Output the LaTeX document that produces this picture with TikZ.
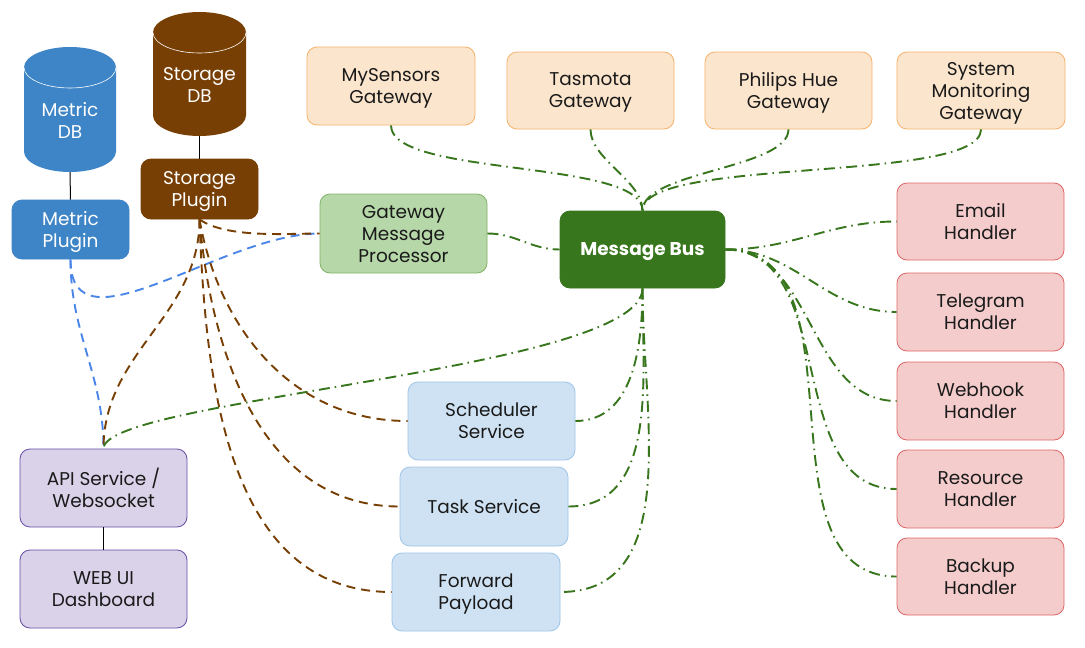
\documentclass[tikz,border=0pt]{standalone}
\usepackage{fontspec}
\setmainfont{Poppins}
\definecolor{mblue}{HTML}{3D85C6}
\definecolor{sbrown}{HTML}{783F04}
\definecolor{gmpfill}{HTML}{B6D7A8}
\definecolor{gmpdraw}{HTML}{82B366}
\definecolor{busgreen}{HTML}{38761D}
\definecolor{gwfill}{HTML}{FCE5CD}
\definecolor{gwdraw}{HTML}{F6B26B}
\definecolor{hfill}{HTML}{F4CCCC}
\definecolor{hdraw}{HTML}{E06666}
\definecolor{sfill}{HTML}{CFE2F3}
\definecolor{sdraw}{HTML}{9FC5E8}
\definecolor{afill}{HTML}{D9D2E9}
\definecolor{adraw}{HTML}{674EA7}
\definecolor{txt}{HTML}{1A1A1A}
\definecolor{bluedash}{HTML}{4A86E8}
\tikzset{
  lbl/.style={inner sep=0pt, align=center, text depth=0pt,
    font=\fontsize{18.5}{22}\selectfont},
  box/.style={lbl, rectangle, rounded corners=10pt, text=txt, line width=0.8pt},
  gw/.style={box, fill=gwfill, draw=gwdraw},
  hd/.style={box, fill=hfill, draw=hdraw},
  sv/.style={box, fill=sfill, draw=sdraw},
  ap/.style={box, fill=afill, draw=adraw},
  greenlink/.style={draw=busgreen, line width=1.9pt, dash pattern=on 11pt off 5pt on 1.5pt off 5pt},
  brownlink/.style={draw=sbrown, line width=1.9pt, dash pattern=on 9pt off 6pt},
  bluelink/.style={draw=bluedash, line width=1.9pt, dash pattern=on 9pt off 6pt},
  plain/.style={draw=black, line width=1pt},
}
\begin{document}
\begin{tikzpicture}[x=1pt,y=1pt]
\useasboundingbox[fill=white] (0,-648) rectangle (1085,0);

% cylinders
\fill[mblue] (24,-67.5) -- (24,-151.5) arc[start angle=180,end angle=360,x radius=46,y radius=20.5] -- (116,-67.5) arc[start angle=0,end angle=180,x radius=46,y radius=20.5] -- cycle;
\draw[white, line width=0.6pt] (24,-67.5) arc[start angle=180,end angle=360,x radius=46,y radius=20.5];
\node[lbl, text=white] (metricdb) at (70,-120) {Metric\\DB};
\coordinate (metricdbb) at (70,-172);

\fill[sbrown] (153,-32.5) -- (153,-115.5) arc[start angle=180,end angle=360,x radius=46.5,y radius=20.5] -- (246,-32.5) arc[start angle=0,end angle=180,x radius=46.5,y radius=20.5] -- cycle;
\draw[white, line width=0.6pt] (153,-32.5) arc[start angle=180,end angle=360,x radius=46.5,y radius=20.5];
\node[lbl, text=white] (storagedb) at (199.5,-85) {Storage\\DB};
\coordinate (storagedbb) at (199.5,-136);

% nodes
\node[box, fill=mblue, draw=mblue, text=white, minimum width=117pt, minimum height=59pt] (mp) at (70.5,-229.5) {Metric\\Plugin};
\node[box, fill=sbrown, draw=sbrown, text=white, minimum width=117pt, minimum height=60pt] (sp) at (199.5,-189) {Storage\\Plugin};
\node[box, fill=gmpfill, draw=gmpdraw, minimum width=167pt, minimum height=79pt] (gmp) at (403.5,-233.5) {Gateway\\Message\\Processor};
\node[box, fill=busgreen, draw=busgreen, text=white, font=\fontsize{18.5}{22}\selectfont\bfseries, minimum width=165pt, minimum height=77pt] (bus) at (642.5,-249.5) {Message Bus};

\node[gw, minimum width=168pt, minimum height=78pt] (mys) at (391,-86) {MySensors\\Gateway};
\node[gw, minimum width=167pt, minimum height=77pt] (tas) at (590.5,-90.5) {Tasmota\\Gateway};
\node[gw, minimum width=167pt, minimum height=77pt] (phi) at (788.5,-90.5) {Philips Hue\\Gateway};
\node[gw, minimum width=168pt, minimum height=77pt] (sys) at (981,-90.5) {System\\Monitoring\\Gateway};

\node[hd, minimum width=167pt, minimum height=77pt] (email) at (980.5,-221.5) {Email\\Handler};
\node[hd, minimum width=167pt, minimum height=78pt] (tele) at (980.5,-312) {Telegram\\Handler};
\node[hd, minimum width=167pt, minimum height=78pt] (web) at (980.5,-401) {Webhook\\Handler};
\node[hd, minimum width=167pt, minimum height=78pt] (res) at (980.5,-489) {Resource\\Handler};
\node[hd, minimum width=167pt, minimum height=77pt] (bak) at (980.5,-576.5) {Backup\\Handler};

\node[sv, minimum width=167pt, minimum height=78pt] (sch) at (491.5,-421) {Scheduler\\Service};
\node[sv, minimum width=168pt, minimum height=79pt] (task) at (484,-506.5) {Task Service};
\node[sv, minimum width=168pt, minimum height=78pt] (fwd) at (476,-592) {Forward\\Payload};

\node[ap, minimum width=167pt, minimum height=78pt] (api) at (103.5,-488) {API Service /\\Websocket};
\node[ap, minimum width=167pt, minimum height=78pt] (webui) at (103.5,-589) {WEB UI\\Dashboard};

% plain links
\draw[plain] (metricdbb) -- (mp.north);
\draw[plain] (storagedbb) -- (sp.north);
\draw[plain, line width=1.6pt] (api.south) -- (webui.north);

% blue links
\draw[bluelink] (mp.south) to[out=-90,in=180] (gmp.west);
\draw[bluelink] (mp.south) to[out=-90,in=90] (api.north);

% brown links
\draw[brownlink] (sp.south) to[out=-35,in=180,looseness=0.7] (gmp.west);
\draw[brownlink] (sp.south) to[out=-90,in=90] (api.north);
\draw[brownlink] (sp.south) to[out=-80,in=180] (sch.west);
\draw[brownlink] (sp.south) to[out=-85,in=180] (task.west);
\draw[brownlink] (sp.south) to[out=-88,in=180] (fwd.west);

% green links
\draw[greenlink] (mys.south) to[out=-90,in=90,looseness=0.5] (bus.north);
\draw[greenlink] (tas.south) to[out=-90,in=90,looseness=0.8] (bus.north);
\draw[greenlink] (phi.south) to[out=-90,in=90,looseness=0.6] (bus.north);
\draw[greenlink] (sys.south) to[out=-90,in=90,looseness=0.4] (bus.north);
\draw[greenlink] (gmp.east) to[out=0,in=180] (bus.west);
\draw[greenlink] (bus.east) to[out=0,in=180] (email.west);
\draw[greenlink] (bus.east) to[out=0,in=180] (tele.west);
\draw[greenlink] (bus.east) to[out=0,in=180] (web.west);
\draw[greenlink] (bus.east) to[out=0,in=180] (res.west);
\draw[greenlink] (bus.east) to[out=0,in=180] (bak.west);
\draw[greenlink] (bus.south) .. controls +(0,-82) and +(0,50) .. (api.north);
\draw[greenlink] (bus.south) to[out=-90,in=0] (sch.east);
\draw[greenlink] (bus.south) to[out=-90,in=0] (task.east);
\draw[greenlink] (bus.south) to[out=-90,in=0] (fwd.east);
\end{tikzpicture}
\end{document}
